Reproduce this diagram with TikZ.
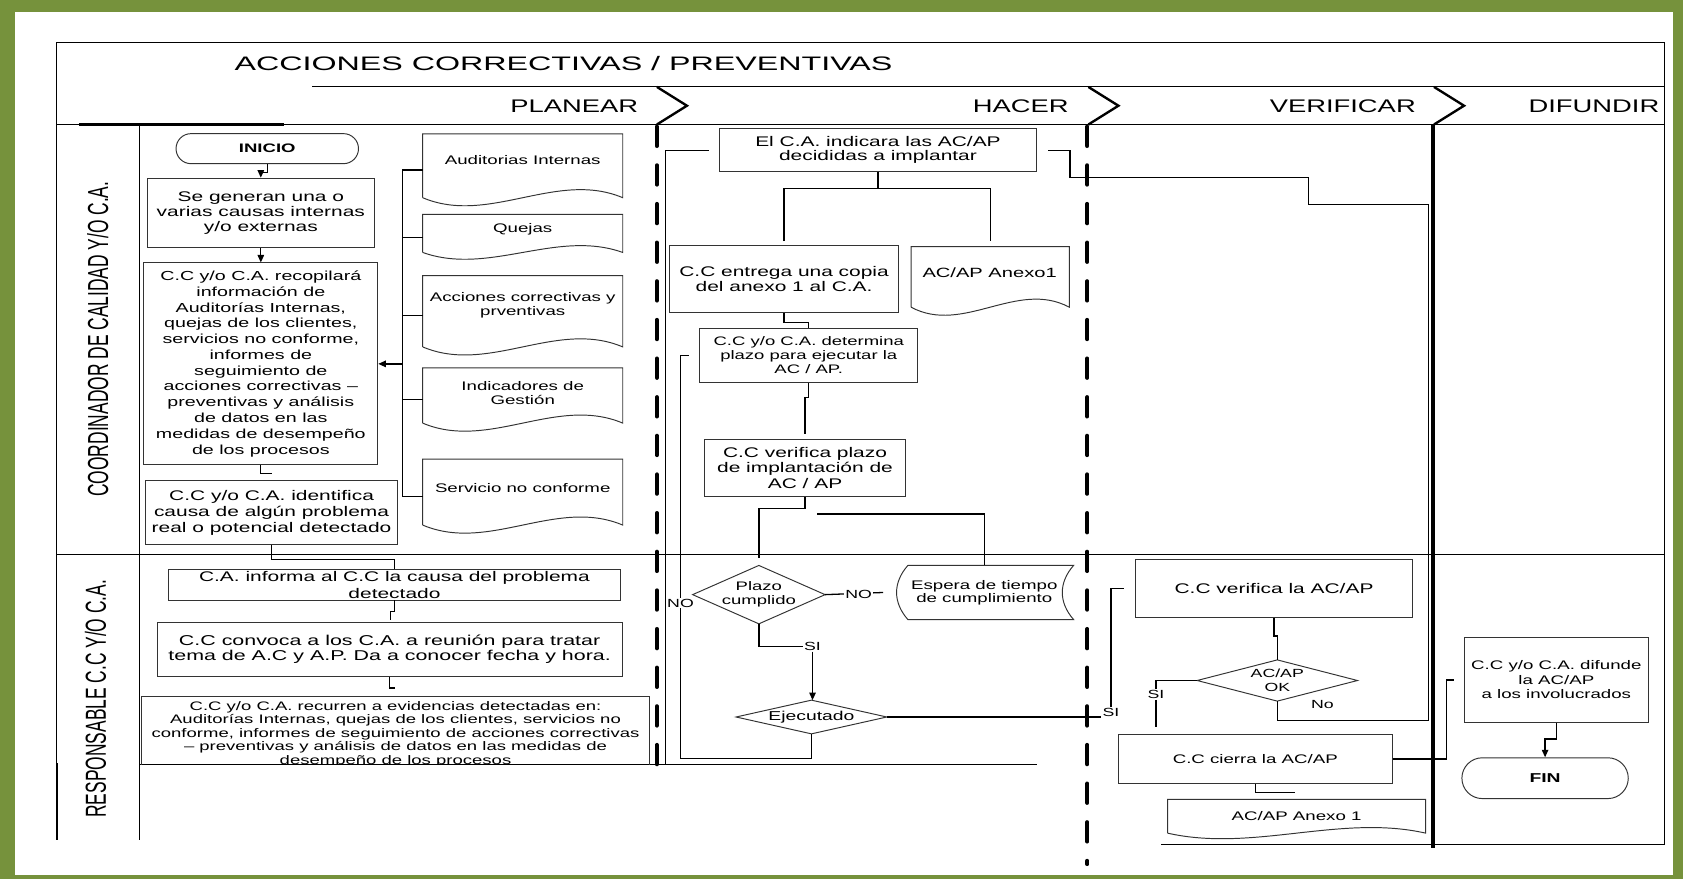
\documentclass[tikz,border=0pt]{standalone}
\usepackage{fontspec}
\setmainfont{Liberation Sans}[FakeStretch=1.5]
\newfontfamily\titlefont{Liberation Sans}[FakeStretch=1.65]
\newfontfamily\lanefont{Liberation Sans}[FakeStretch=0.6]
\usepackage{xcolor}
\usepackage{tikz}
\usetikzlibrary{arrows.meta,calc}
\definecolor{framegreen}{RGB}{118,146,60}

\begin{document}
\begin{tikzpicture}[x=1pt,y=-1pt,>={Triangle[length=7pt,width=6pt]},
  procbox/.style={draw=black!80,line width=0.9pt,align=center,inner sep=1pt,font=\fontsize{13}{14.5}\selectfont},
  termbox/.style={procbox,font=\bfseries\fontsize{11.5}{13}\selectfont},
  shapenode/.style={align=center,inner sep=0pt,font=\fontsize{11.5}{13}\selectfont},
  shapeline/.style={draw=black!80,line width=0.9pt},
  doctext/.style={align=center,inner sep=0pt,font=\fontsize{11.6}{13}\selectfont},
  flowline/.style={line width=1.2pt},
  flowlabel/.style={inner sep=1pt,font=\fontsize{11}{12}\selectfont},
  laneline/.style={line width=0.9pt},
  phasetext/.style={font=\fontsize{17}{18}\selectfont},
  lanetext/.style={rotate=90,font=\lanefont\fontsize{27}{28}\selectfont},
  dashsep/.style={line width=3.8pt,line cap=round,dash pattern=on 18pt off 18pt},
  chevline/.style={line width=2.2pt}]
  \useasboundingbox (0,0) rectangle (1568,819);
  \fill[framegreen] (0,0) rectangle (1568,819);
  \fill[white] (14,11) rectangle (1559,815);

  % lanes and columns
  \draw[laneline] (53,39.5) -- (1551,39.5);
  \draw[laneline] (291,81) -- (1551,81);
  \draw[laneline] (53,116) -- (1551,116);
  \draw[line width=2.5pt] (74,116) -- (265,116);
  \draw[laneline] (53,517) -- (1551,517);
  \draw[laneline] (130,712) -- (966,712);
  \draw[laneline] (1082,787) -- (1551,787);
  \draw[laneline] (53,39.5) -- (53,711);
  \draw[line width=2pt] (53,711) -- (53,783);
  \draw[laneline] (130,116) -- (130,783);
  \draw[laneline] (1551,39.5) -- (1551,787);
  \draw[dashsep] (612,118) -- (612,712);
  \draw[dashsep] (1013,118) -- (1013,805);
  \draw[line width=3.5pt] (1335,116) -- (1335,790);
  \foreach \x in {612,1014,1336}
    \draw[chevline] (\x,81) -- ++(28,17.5) -- ++(-28,17.5);

  \node[font=\titlefont\fontsize{18.2}{20}\selectfont] (titulo) at (525,59) {ACCIONES CORRECTIVAS / PREVENTIVAS};
  \node[phasetext] (planear) at (535,99) {PLANEAR};
  \node[phasetext] (hacer) at (951,99) {HACER};
  \node[phasetext] (verificar) at (1251,99) {VERIFICAR};
  \node[phasetext] (difundir) at (1485,99) {DIFUNDIR};
  \node[lanetext] (coord) at (91,316) {COORDINADOR DE CALIDAD Y/O C.A.};
  \node[lanetext] (resp) at (89,651) {RESPONSABLE C.C Y/O C.A.};

  % planear
  \node[termbox,minimum width=170,minimum height=28,rounded corners=14pt] (inicio) at (249,138.5) {INICIO};
  \node[procbox,minimum width=212,minimum height=65,font=\fontsize{13}{13.7}\selectfont] (genera) at (243,198.5) {Se generan una o\\varias causas internas\\y/o externas};
  \node[procbox,minimum width=218,minimum height=188,font=\fontsize{12.2}{14.7}\selectfont] (recopila) at (243,339) {C.C y/o C.A. recopilará\\información de\\Auditorías Internas,\\quejas de los clientes,\\servicios no conforme,\\informes de\\seguimiento de\\acciones correctivas –\\preventivas y análisis\\de datos  en las\\medidas de desempeño\\de los procesos};
  \node[procbox,minimum width=234,minimum height=59,font=\fontsize{13}{15}\selectfont] (identifica) at (253,477.5) {C.C y/o C.A. identifica\\causa de algún problema\\real o potencial detectado};

  \node[shapenode,minimum width=186,minimum height=59] (aud) at (487,154.5) {};
  \node[shapenode,minimum width=186,minimum height=35] (quejas) at (487,217.5) {};
  \node[shapenode,minimum width=186,minimum height=66] (acc) at (487,290) {};
  \node[shapenode,minimum width=186,minimum height=51] (ind) at (487,368.5) {};
  \node[shapenode,minimum width=186,minimum height=61] (serv) at (487,458.5) {};
  \node[doctext] (aud-t) at (487,149) {Auditorias Internas};
  \node[doctext] (quejas-t) at (487,214) {Quejas};
  \node[doctext] (acc-t) at (487,284.5) {Acciones correctivas y\\prventivas};
  \node[doctext] (ind-t) at (487,366) {Indicadores de\\Gestión};
  \node[doctext] (serv-t) at (487,455) {Servicio no conforme};

  \node[procbox,minimum width=421,minimum height=28,inner ysep=0pt,font=\fontsize{13}{15}\selectfont] (informa) at (367.5,545) {C.A. informa al C.C la causa del problema\\detectado};
  \node[procbox,minimum width=433,minimum height=51,font=\fontsize{13.3}{14.5}\selectfont] (convoca) at (363,605) {C.C convoca a los C.A. a reunión para tratar\\tema de A.C y A.P. Da a conocer fecha y hora.};
  \begin{scope}
    \clip (125,640) rectangle (612,712);
    \node[procbox,anchor=north,minimum width=473,minimum height=71,font=\fontsize{11.5}{12.7}\selectfont] (recurren) at (368.5,648) {C.C y/o C.A. recurren a evidencias detectadas en:\\Auditorías Internas, quejas de los clientes, servicios no\\conforme, informes de seguimiento de acciones correctivas\\– preventivas y análisis de datos  en las medidas de\\desempeño de los procesos};
  \end{scope}

  % hacer
  \node[procbox,minimum width=296,minimum height=40,font=\fontsize{13}{13}\selectfont] (indica) at (818,140) {El C.A.  indicara las AC/AP\\decididas  a implantar};
  \node[procbox,minimum width=213,minimum height=62] (entrega) at (730.5,260) {C.C entrega una copia\\del anexo 1 al C.A.};
  \node[shapenode,minimum width=147,minimum height=56] (anexoa) at (922.5,258) {};
  \node[doctext,font=\fontsize{12.5}{13}\selectfont] (anexoa-t) at (922,254) {AC/AP Anexo1};
  \node[procbox,minimum width=203,minimum height=50,font=\fontsize{11.5}{13}\selectfont] (determina) at (753.5,331) {C.C y/o C.A. determina\\plazo para ejecutar la\\AC / AP.};
  \node[procbox,minimum width=188,minimum height=54] (verplazo) at (750,436) {C.C verifica plazo\\de implantación de\\AC / AP};
  \node[shapenode,minimum width=123,minimum height=54] (plazo) at (707,554) {Plazo\\cumplido};
  \node[shapenode,minimum width=166,minimum height=50,font=\fontsize{11.6}{12.5}\selectfont] (espera) at (917,552) {Espera de tiempo\\de cumplimiento};
  \node[shapenode,minimum width=140,minimum height=31,font=\fontsize{12}{13}\selectfont] (ejec) at (756,668) {Ejecutado};

  % verificar, difundir
  \node[procbox,minimum width=258,minimum height=54] (verac) at (1187,548) {C.C verifica la AC/AP};
  \node[shapenode,minimum width=149,minimum height=38,font=\fontsize{11}{13}\selectfont] (okdiam) at (1190,634) {AC/AP\\OK};
  \node[procbox,minimum width=255,minimum height=46,font=\fontsize{11.6}{13}\selectfont] (cierra) at (1169.5,707) {C.C cierra la AC/AP};
  \node[shapenode,minimum width=240,minimum height=31] (anexob) at (1208,760.5) {};
  \node[doctext] (anexob-t) at (1208,760) {AC/AP Anexo 1};
  \node[procbox,minimum width=172,minimum height=79,font=\fontsize{11.6}{13.5}\selectfont] (difunde) at (1450,633.5) {C.C y/o C.A. difunde\\la AC/AP\\a los involucrados};
  \node[termbox,minimum width=155,minimum height=38,rounded corners=19pt,font=\bfseries\fontsize{12}{13}\selectfont] (fin) at (1439.5,725) {FIN};

  % outlines
  \foreach \d/\c in {aud/26,quejas/22,acc/26,ind/26,serv/26,anexoa/26,anexob/18}
    \draw[shapeline] (\d.south west) -- (\d.north west) -- (\d.north east) -- (\d.south east)
      .. controls ($(\d.south east)!0.33!(\d.south west)+(0,-\c)$) and ($(\d.south east)!0.67!(\d.south west)+(0,\c)$) .. (\d.south west);
  \foreach \d in {plazo,ejec,okdiam}
    \draw[shapeline] (\d.north) -- (\d.east) -- (\d.south) -- (\d.west) -- cycle;
  \draw[shapeline] ([xshift=12pt]espera.north west) -- (espera.north east)
    .. controls +(-14,16) and +(-14,-16) .. (espera.south east) -- ([xshift=12pt]espera.south west)
    .. controls +(-14,-16) and +(-14,16) .. ([xshift=12pt]espera.north west);

  % connectors
  \coordinate (bus) at ([xshift=-19pt]aud.west);
  \draw[flowline,->] (inicio.south) -- ++(0,8) -| (genera.north);
  \draw[flowline,->] (genera) -- (recopila);
  \draw[flowline] (recopila.south) |- ++(10,8);
  \foreach \d in {aud,quejas,acc,ind,serv}
    \draw[flowline] ([yshift=-4pt]\d.west) -- ++(-19,0);
  \draw[flowline] ([xshift=-19pt,yshift=-4pt]aud.west) -- ([xshift=-19pt,yshift=-4pt]serv.west);
  \draw[flowline,->] (bus |- recopila.east) -- (recopila.east);
  \draw[flowline] (identifica.south) -- ++(0,14) -| (informa.north);
  \draw[flowline] (informa.south) -- ++(0,10) -| ++(-4,8);
  \draw[flowline] (convoca.south) |- ++(5,10);

  \coordinate (rail) at (620,712);
  \draw[flowline] (rail) |- ([xshift=-9pt]indica.west);
  \draw[flowline] (indica.south) -- ++(0,15) coordinate (split);
  \draw[flowline] ([yshift=4pt]entrega.north) |- (split) -| ([yshift=5pt]anexoa.north);
  \draw[flowline] (entrega.south) -- ++(0,9) -| (determina.north);
  \draw[flowline] (determina.south) -- ++(0,14) -| ([yshift=4pt]verplazo.north);
  \draw[flowline] (verplazo.south) -- ++(0,10) -| ([yshift=7pt]plazo.north);
  \draw[flowline] (plazo.east) -- ([xshift=-11pt]espera.west);
  \node[flowlabel,fill=white] (no3) at (800,554) {NO};
  \draw[flowline] (espera.north) -- ++(0,-48) -- ++(-156,0);
  \node[flowlabel] (si1) at (757,602) {SI};
  \draw[flowline] (plazo.south) |- (si1.west);
  \draw[flowline,->] (si1.south) -- (si1.south |- ejec.north);
  \draw[flowline] (ejec.south) -- ++(0,23) -- ++(-122,0) |- ([xshift=-10pt]determina.west);
  \node[flowlabel,fill=white] (no1) at (634,562) {NO};

  \node[flowlabel] (si2) at (1035,664) {SI};
  \draw[flowline] (ejec.east) -- (ejec.east -| si2.west);
  \draw[flowline] (si2.north) |- ([xshift=-10pt]verac.west);
  \draw[flowline] (verac.south) -- ++(0,17) -| (okdiam.north);
  \node[flowlabel] (si3) at (1077,647) {SI};
  \draw[flowline] (okdiam.west) -| (si3.north);
  \draw[flowline] (si3.south) -- ++(0,25);
  \draw[flowline] (okdiam.south) -- ++(0,18) -- ++(141,0) |- ++(-112,-481) |- ++(-222,-25) |- ([xshift=10pt]indica.east);
  \node[flowlabel] (no2) at (1232,656) {No};
  \draw[flowline] (cierra.south) |- ++(37,8);
  \draw[flowline] (cierra.east) -- ++(50,0) |- ([xshift=-9pt]difunde.west);
  \draw[flowline,->] (difunde.south) -- ++(0,15) -| (fin.north);
\end{tikzpicture}
\end{document}
